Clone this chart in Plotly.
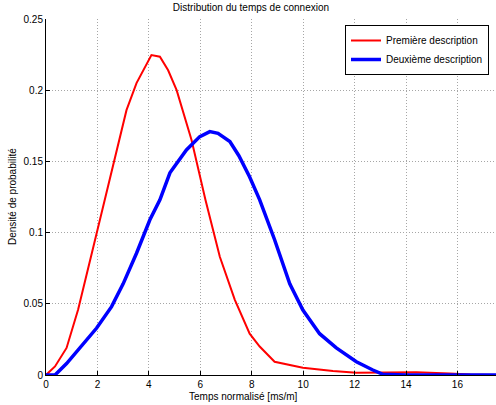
import plotly.graph_objects as go

# --- data ---
red_name = "Première description"
red_x = [0, 0.35, 0.8, 1.25, 1.97, 2.29, 2.7, 3.13, 3.52, 3.8, 4.1, 4.43, 4.75, 5.08,
         5.66, 6.2, 6.76, 7.34, 7.92, 8.31, 8.89, 9.99, 11.16, 12.07, 13.1, 14.4, 15.7, 16.5, 17.5]
red_y = [0, 0.006, 0.019, 0.046, 0.0995, 0.123, 0.154, 0.186, 0.205, 0.215, 0.2247, 0.2235, 0.214, 0.200,
         0.165, 0.123, 0.083, 0.053, 0.029, 0.020, 0.0093, 0.0051, 0.0028, 0.0016, 0.0019, 0.0019, 0.001, 0.0003, 0]

blue_name = "Deuxième description"
blue_x = [0, 0.35, 0.8, 1.32, 1.97, 2.55, 3.0, 3.52, 4.04, 4.43, 4.82, 5.46, 5.98, 6.37, 6.69,
          7.15, 7.5, 7.92, 8.31, 8.89, 9.48, 9.99, 10.64, 11.29, 12.07, 12.71, 13.1, 14, 17.5]
blue_y = [0, 0, 0.008, 0.019, 0.033, 0.048, 0.064, 0.0855, 0.109, 0.123, 0.142, 0.158, 0.1674, 0.1709, 0.1697,
          0.164, 0.154, 0.139, 0.123, 0.095, 0.064, 0.0456, 0.029, 0.019, 0.0093, 0.0035, 0.0005, 0, 0]

x_ticks = [0, 2, 4, 6, 8, 10, 12, 14, 16]
y_ticks = [0, 0.05, 0.1, 0.15, 0.2, 0.25]
y_tick_labels = ["0", "0.05", "0.1", "0.15", "0.2", "0.25"]

title = "Distribution du temps de connexion"
x_title = "Temps normalisé [ms/m]"
y_title = "Densité de probabilité"

FONT = "Liberation Sans, Arial, Helvetica, sans-serif"

fig = go.Figure()
fig.add_trace(go.Scatter(x=red_x, y=red_y, mode="lines", name=red_name,
                         line=dict(color="#ff0000", width=2)))
fig.add_trace(go.Scatter(x=blue_x, y=blue_y, mode="lines", name=blue_name,
                         line=dict(color="#0000ff", width=3.5)))

axis_common = dict(
    showline=True, linecolor="black", linewidth=1,
    ticks="inside", ticklen=4, tickcolor="black",
    showgrid=True, gridcolor="#a6a6a6", griddash="1px,2px", gridwidth=1,
    zeroline=False, mirror=False,
    tickfont=dict(family=FONT, size=10, color="black"),
)

fig.update_layout(
    width=496, height=405,
    paper_bgcolor="white", plot_bgcolor="white",
    margin=dict(l=46, r=0, t=19, b=30, autoexpand=False),
    font=dict(family=FONT, size=10, color="black"),
    title=dict(text=title, x=0.506, xref="container", y=1 - 7 / 405, yref="container",
               xanchor="center", yanchor="middle", font=dict(family=FONT, size=10, color="black")),
    xaxis=dict(range=[0, 17.5], tickvals=x_ticks, **axis_common),
    yaxis=dict(range=[0, 0.25], tickvals=y_ticks, ticktext=y_tick_labels, **axis_common),
    legend=dict(x=(489 - 46) / 450, y=(375 - 25) / 356, xanchor="right", yanchor="top",
                bgcolor="white", bordercolor="black", borderwidth=1,
                font=dict(family=FONT, size=10, color="black"),
                itemwidth=30, tracegroupgap=0),
    showlegend=True,
    annotations=[
        dict(text=x_title, xref="paper", yref="paper", x=(243 - 46) / 450, y=-21 / 356,
             xanchor="center", yanchor="middle", showarrow=False,
             font=dict(family=FONT, size=10, color="black")),
        dict(text=y_title, xref="paper", yref="paper", x=(12 - 46) / 450, y=0.5,
             xanchor="center", yanchor="middle", textangle=-90, showarrow=False,
             font=dict(family=FONT, size=10, color="black")),
    ],
)

fig.write_html("out.html", config={"displayModeBar": False},
               post_script="document.body.style.margin='0';document.body.style.padding='0';")
